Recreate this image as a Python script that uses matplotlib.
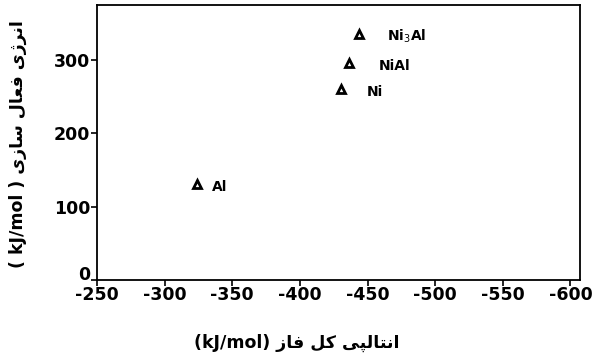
import matplotlib
matplotlib.use("Agg")
import matplotlib.pyplot as plt
from matplotlib.transforms import ScaledTranslation

plt.rcParams['font.family'] = ['DejaVu Sans']
plt.rcParams['axes.unicode_minus'] = False

# Phases: total enthalpy vs. activation energy (kJ/mol)
phases = ["Ni$_3$Al", "NiAl", "Ni", "Al"]
enthalpy = [-444, -436, -430, -324]
activation = [336, 296, 260, 131]
label_offsets = [(20, -2), (22, -2), (19, -2), (11, -2)]

x_ticks = [-250, -300, -350, -400, -450, -500, -550, -600]
y_ticks = [0, 100, 200, 300]


def glyphs(*codes):
    """Persian word from presentation-form code points, in visual order."""
    return "".join(chr(c) for c in codes)


# انتالپی کل فاز (kJ/mol)
w_antalpi = glyphs(0xFBFD, 0xFB59, 0xFEDF, 0xFE8E, 0xFE98, 0xFEE7, 0xFE8D)
w_kol = glyphs(0xFEDE, 0xFB90)
w_faz = glyphs(0xFEAF, 0xFE8E, 0xFED3)
xlabel = "(kJ/mol) " + w_faz + " " + w_kol + " " + w_antalpi

# انرژی فعال سازی ( kJ/mol )
w_energy = glyphs(0xFBFC, 0xFB8A, 0xFEAE, 0xFEE7, 0xFE8D)
w_faal = glyphs(0xFEDD, 0xFE8E, 0xFECC, 0xFED3)
w_sazi = glyphs(0xFBFC, 0xFEAF, 0xFE8E, 0xFEB3)
ylabel = "( kJ/mol ) " + w_sazi + " " + w_faal + " " + w_energy

fig = plt.figure(figsize=(5.93, 3.61), dpi=100)
ax = fig.add_axes([0.1636, 0.2244, 0.8144, 0.7616])

ax.plot(enthalpy, activation, linestyle="none", marker="^", markersize=6,
        markerfacecolor="white", markeredgecolor="black", markeredgewidth=2)
for name, x, y, off in zip(phases, enthalpy, activation, label_offsets):
    ax.annotate(name, (x, y), xytext=off, textcoords="offset points",
                ha="left", va="center", fontsize=10, fontweight="bold")

ax.set_xlim(-250, -607)
ax.set_ylim(0, 375)
ax.set_xticks(x_ticks)
ax.set_yticks(y_ticks)
ax.tick_params(direction="out", length=4, width=1.2, labelsize=12.5)
ax.tick_params(axis="x", pad=0)
ax.tick_params(axis="y", pad=1)
for lab in ax.get_xticklabels() + ax.get_yticklabels():
    lab.set_fontweight("bold")
# lift the "0" label a little so it clears the x tick labels
zero_lab = ax.get_yticklabels()[0]
zero_lab.set_transform(zero_lab.get_transform()
                       + ScaledTranslation(0, 5 / 72, fig.dpi_scale_trans))
for s in ax.spines.values():
    s.set_linewidth(1.3)

fig.text(0.50, 0.05, xlabel, ha="center", va="center", fontsize=12.5,
         fontweight="bold")
fig.text(0.03, 0.60, ylabel, ha="center", va="center", rotation=90,
         fontsize=12.5, fontweight="bold")

fig.savefig("out.png", dpi=100)
